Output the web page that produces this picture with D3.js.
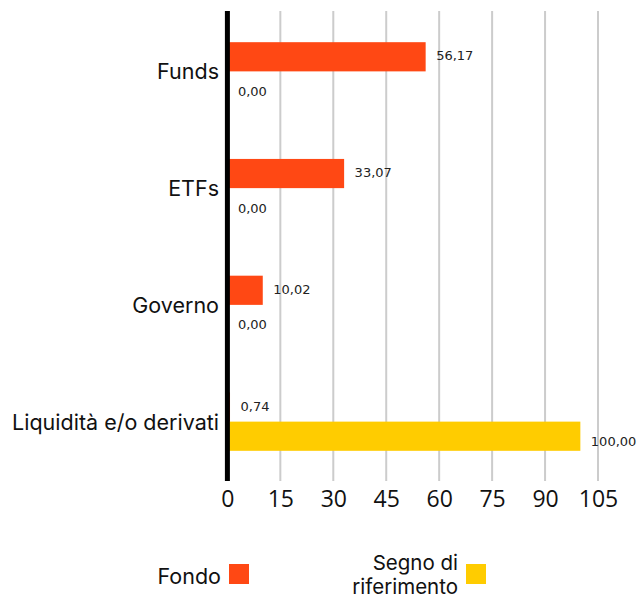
<!DOCTYPE html>
<html>
<head>
<meta charset="utf-8">
<script src="https://cdn.jsdelivr.net/npm/d3@7"></script>
<style>
  html, body { margin: 0; padding: 0; background: #fff; }
  svg { display: block; font-family: Inter, "Open Sans", sans-serif; }
</style>
</head>
<body>
<svg id="chart" width="638" height="601"></svg>
<script>
const categories = ["Funds", "ETFs", "Governo", "Liquidità e/o derivati"];
const seriesNames = ["Fondo", "Segno di riferimento"];
const legendLines = [["Fondo"], ["Segno di", "riferimento"]];
const fondoValues = [56.17, 33.07, 10.02, 0.74];
const benchmarkValues = [0.00, 0.00, 0.00, 100.00];
const tickValues = [0, 15, 30, 45, 60, 75, 90, 105];
const colors = ["#FF4814", "#FFCC00"];

const svg = d3.select("#chart");
const x = d3.scaleLinear().domain([0, 105]).range([227.4, 598]);
const y = d3.scaleBand().domain(categories).range([13, 480]).paddingInner(0.5).paddingOuter(0.25);
const sub = d3.scaleBand().domain(seriesNames).range([0, y.bandwidth()]);
const fmt = v => d3.format(".2f")(v).replace(".", ",");

// grid
svg.append("g").selectAll("line").data(tickValues.slice(1)).join("line")
  .attr("x1", d => x(d)).attr("x2", d => x(d))
  .attr("y1", 11).attr("y2", 481)
  .attr("stroke", "#cccccc").attr("stroke-width", 2);

const data = categories.map((c, i) => ({ c, vals: [fondoValues[i], benchmarkValues[i]] }));

const groups = svg.append("g").selectAll("g").data(data).join("g")
  .attr("transform", d => `translate(0,${y(d.c)})`);

groups.selectAll("rect").data(d => d.vals.map((v, j) => ({ v, j }))).join("rect")
  .attr("x", x(0))
  .attr("y", d => sub(seriesNames[d.j]))
  .attr("width", d => Math.max(0, x(d.v) - x(0)))
  .attr("height", sub.bandwidth())
  .attr("fill", d => colors[d.j]);

groups.selectAll("text").data(d => d.vals.map((v, j) => ({ v, j }))).join("text")
  .attr("x", d => x(d.v) + 10.5)
  .attr("y", d => sub(seriesNames[d.j]) + sub.bandwidth() / 2 + (d.j === 0 ? 3.5 : 10))
  .attr("font-size", 13)
  .attr("font-family", "'DejaVu Sans', sans-serif")
  .attr("fill", "#222")
  .text(d => fmt(d.v));

// category labels
svg.append("g").selectAll("text").data(categories).join("text")
  .attr("x", 219)
  .attr("y", d => y(d) + y.bandwidth() / 2 + 8)
  .attr("text-anchor", "end")
  .attr("font-size", 21.5)
  .attr("fill", "#111")
  .text(d => d);

// y axis line
svg.append("line").attr("x1", x(0)).attr("x2", x(0)).attr("y1", 11).attr("y2", 481)
  .attr("stroke", "#000").attr("stroke-width", 5);

// x axis
const xAxis = svg.append("g").attr("transform", "translate(0,481)")
  .call(d3.axisBottom(x).tickValues(tickValues).tickSize(0).tickPadding(0));
xAxis.select(".domain").remove();
xAxis.selectAll("text").attr("dy", null).attr("y", 26)
  .attr("font-size", 23).attr("fill", "#111").attr("font-family", "'Open Sans', Inter, sans-serif");

// legend
const leg = svg.append("g");
leg.append("text").attr("x", 221).attr("y", 584).attr("text-anchor", "end")
  .attr("font-size", 21.5).attr("fill", "#111").text(legendLines[0][0]);
leg.append("rect").attr("x", 229).attr("y", 564).attr("width", 20).attr("height", 20).attr("fill", colors[0]);
leg.append("text").attr("text-anchor", "end").attr("font-size", 20.5).attr("fill", "#111")
  .selectAll("tspan").data(legendLines[1]).join("tspan")
  .attr("x", 458).attr("y", (d, i) => 570 + i * 24).text(d => d);
leg.append("rect").attr("x", 466).attr("y", 564).attr("width", 20).attr("height", 20).attr("fill", colors[1]);
</script>
</body>
</html>
